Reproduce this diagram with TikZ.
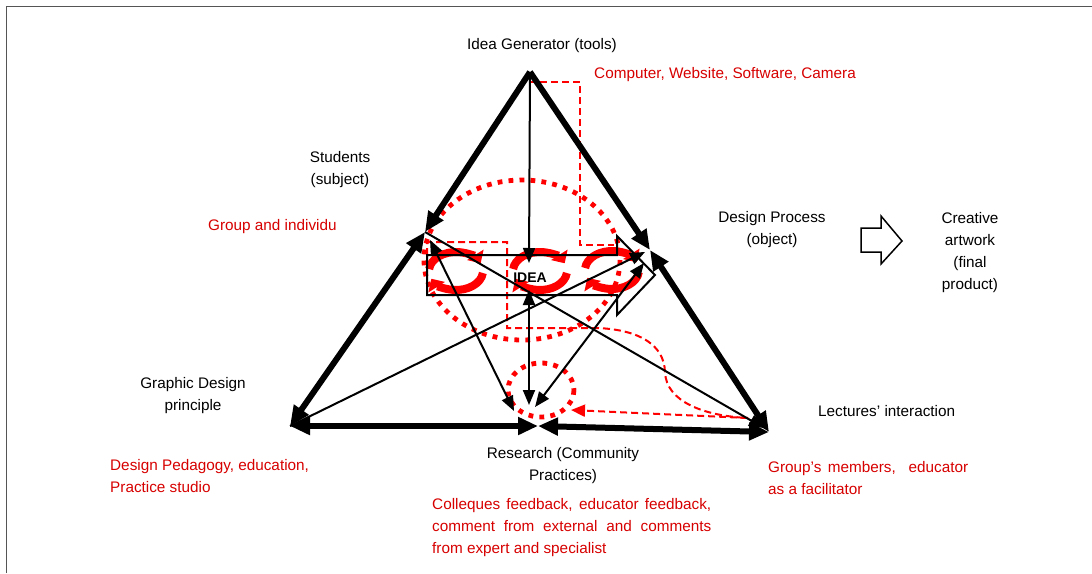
\documentclass[tikz,border=0pt]{standalone}
\usepackage{fontspec}
\setmainfont{Liberation Sans}
\usetikzlibrary{arrows.meta,calc}
\definecolor{shapered}{RGB}{255,0,0}
\definecolor{textred}{RGB}{215,0,0}
\definecolor{framegray}{RGB}{85,85,85}
\tikzset{
  bigtip/.tip={Triangle[length=20pt,width=17pt]},
  smalltip/.tip={Triangle[length=15pt,width=12pt]},
  redtip/.tip={Triangle[length=14pt,width=12pt]},
  cycletip/.tip={Triangle[length=10pt,width=19pt]},
  lbl/.style={inner sep=0pt, font=\fontsize{15.3}{22}\selectfont, align=center},
  redlbl/.style={lbl, text=textred},
  thickedge/.style={line width=6pt},
  thinedge/.style={line width=2pt},
  reddots/.style={draw=shapered, line width=4.8pt, dash pattern=on 4.8pt off 6.2pt},
  reddash/.style={draw=shapered, line width=2pt, dash pattern=on 7pt off 4pt},
  cyclearc/.style={draw=shapered, line width=8pt, -cycletip},
  blockarrow/.style={draw=black, line width=2pt, line join=miter},
}
\begin{document}
\begin{tikzpicture}[x=1pt,y=-1pt]
\useasboundingbox (0,0) rectangle (1092,573);

% frame
\draw[framegray, line width=1.6pt] (6.5,573) -- (6.5,6.5) -- (1092,6.5);

% corner points of the activity triangle
\coordinate (apex) at (530,72);
\coordinate (lmid) at (425,232);
\coordinate (bl)   at (290,426);
\coordinate (bmid) at (538,426);
\coordinate (br)   at (769,432);
\coordinate (rmid) at (650,250);
% inner targets
\coordinate (ideaT) at (529,263);
\coordinate (ideaB) at (529,290);
\coordinate (resL) at (514,411);
\coordinate (resC) at (529,405);
\coordinate (resR) at (535,407);
\coordinate (rmidA) at (645,252);
\coordinate (rmidB) at (644,263);
\coordinate (lmidB) at (430,240);
\coordinate (brIn) at (764,428);

% red dotted circles
\coordinate (bigc) at (522,260);
\draw[reddots] (bigc) ellipse [x radius=98, y radius=80];
\coordinate (smallc) at (541,390);
\draw[reddots] (smallc) ellipse [x radius=33, y radius=27];

% red dashed guides
\coordinate (d1) at (529,82);
\coordinate (d2) at (580,82);
\coordinate (d3) at (580,245);
\coordinate (d4) at (614,245);
\draw[reddash] (d1) -- (d2) -- (d3) -- (d4);

\coordinate (e1) at (427,255);
\coordinate (e2) at (427,242);
\coordinate (e3) at (507,242);
\coordinate (e4) at (507,328);
\coordinate (e5) at (598,328);
\coordinate (e6) at (665,372);
\coordinate (lecA) at (748,418);
\draw[reddash] (e1) -- (e2) -- (e3) -- (e4) -- (e5)
  .. controls (640,330) and (664,345) .. (e6)
  .. controls (666,402) and (705,416) .. (lecA);
\coordinate (smallIn) at (571,410);
\draw[reddash, -redtip] (lecA) -- (smallIn);

% red cycle arrows along the idea bar
\foreach \n/\cx/\cy in {a/456/271, b/540/271, c/612/270}{
  \coordinate (cyc\n) at (\cx,\cy);
  \draw[cyclearc] ([shift={(186:27 and 19)}]cyc\n)
    arc[start angle=186, end angle=336, x radius=27, y radius=19];
  \draw[cyclearc] ([shift={(6:27 and 19)}]cyc\n)
    arc[start angle=6, end angle=156, x radius=27, y radius=19];
}

% thick triangle edges
\draw[thickedge, -bigtip] (apex) -- (lmid);
\draw[thickedge, bigtip-bigtip] (bl) -- (lmid);
\draw[thickedge, -bigtip] (apex) -- (rmid);
\draw[thickedge, bigtip-bigtip] (rmid) -- (br);
\draw[thickedge, bigtip-bigtip] (bl) -- (bmid);
\draw[thickedge, bigtip-bigtip] (bmid) -- (br);

% thin connectors
\draw[thinedge, -smalltip] (apex) -- (ideaT);
\draw[thinedge, smalltip-smalltip] (ideaB) -- (resC);
\draw[thinedge, smalltip-smalltip] (lmidB) -- (resL);
\draw[thinedge, -smalltip] (lmid) -- (brIn);
\draw[thinedge, -smalltip] (bl) -- (rmidA);
\draw[thinedge, smalltip-smalltip] (rmidB) -- (resR);

% idea block arrow
\draw[blockarrow] (427,255) -- (617,255) -- (617,236) -- (655,275)
  -- (617,315) -- (617,295) -- (427,295) -- cycle;
\node[inner sep=0pt, font=\fontsize{14}{14}\selectfont\bfseries] (idea) at (530,278) {IDEA};

% outcome arrow
\draw[line width=1.5pt, line join=miter] (861,228) -- (881,228) -- (881,216)
  -- (902,241) -- (881,264) -- (881,252) -- (861,252) -- cycle;

% labels
\node[lbl] (tools) at (542,46) {Idea Generator (tools)};
\node[redlbl, anchor=west] (toolsx) at (594,75) {Computer, Website, Software, Camera};
\node[lbl] (subj) at (340,169.5) {Students\\(subject)};
\node[redlbl, anchor=west] (subjx) at (208,227) {Group and individu};
\node[lbl] (obj) at (772,230) {Design Process\\(object)};
\node[lbl] (outc) at (970,252.5) {Creative\\artwork\\(final\\product)};
\node[lbl] (rules) at (193,396) {Graphic Design\\principle};
\node[lbl, anchor=west] (div) at (818,411) {Lectures’ interaction};
\node[redlbl, anchor=west, align=left] (rulesx) at (110,476) {Design Pedagogy, education,\\Practice studio};
\node[lbl] (comm) at (563,466) {Research (Community\\Practices)};
\node[redlbl, anchor=north west, text width=200pt, align=justify] (divx) at (768,461)
  {Group’s members,\ \ educator\linebreak as a facilitator};
\node[redlbl, anchor=north west, text width=279pt, align=justify] (commx) at (432,498)
  {Colleques feedback, educator feedback,\linebreak comment from external and comments\linebreak from expert and specialist};
\end{tikzpicture}
\end{document}
